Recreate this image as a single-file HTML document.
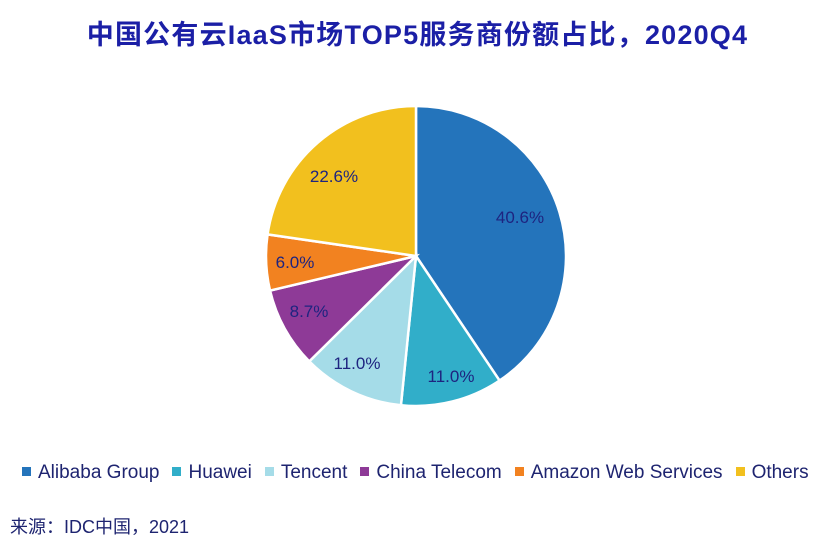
<!DOCTYPE html>
<html><head><meta charset="utf-8"><style>
body{margin:0;width:835px;height:549px;background:#fff;position:relative;overflow:hidden;font-family:"Liberation Sans","Noto Sans CJK SC",sans-serif;}
.t{position:absolute;left:0;width:835px;top:13px;text-align:center;font-size:27px;font-weight:bold;color:#1b1fa6;letter-spacing:1.2px;}
.lab{position:absolute;font-size:17px;color:#1e2480;transform:translate(-50%,-50%);white-space:nowrap;}
.leg{position:absolute;top:462px;left:22px;font-size:19px;color:#1e2470;white-space:nowrap;}
.leg span{margin-right:13px;}
.leg i{display:inline-block;width:9px;height:9px;margin-right:7px;vertical-align:2px;}
.src{position:absolute;left:10px;top:513px;font-size:18px;color:#1e2470;}
</style></head><body>
<div class="t">中国公有云IaaS市场TOP5服务商份额占比，2020Q4</div>
<svg id="p" width="835" height="549" style="position:absolute;left:0;top:0"></svg>
<div class="lab" style="left:520px;top:218px">40.6%</div>
<div class="lab" style="left:451px;top:377px">11.0%</div>
<div class="lab" style="left:357px;top:364px">11.0%</div>
<div class="lab" style="left:309px;top:312px">8.7%</div>
<div class="lab" style="left:295px;top:263px">6.0%</div>
<div class="lab" style="left:334px;top:177px">22.6%</div>
<div class="leg"><span><i style="background:#2474bb"></i>Alibaba Group</span><span><i style="background:#31aec9"></i>Huawei</span><span><i style="background:#a5dce8"></i>Tencent</span><span><i style="background:#8e3a97"></i>China Telecom</span><span><i style="background:#f28220"></i>Amazon Web Services</span><span><i style="background:#f2c01e"></i>Others</span></div>
<div class="src">来源：IDC中国，2021</div>
<script>
var d=[[40.6,"#2474bb"],[11,"#31aec9"],[11,"#a5dce8"],[8.7,"#8e3a97"],[6,"#f28220"],[22.7,"#f2c01e"]];
var cx=416,cy=256,r=150,a=-Math.PI/2,s="";
d.forEach(function(x){var b=a+x[0]/100*2*Math.PI;
var x1=cx+r*Math.cos(a),y1=cy+r*Math.sin(a),x2=cx+r*Math.cos(b),y2=cy+r*Math.sin(b);
s+='<path d="M'+cx+' '+cy+'L'+x1+' '+y1+'A'+r+' '+r+' 0 '+(b-a>Math.PI?1:0)+' 1 '+x2+' '+y2+'Z" fill="'+x[1]+'" stroke="#fff" stroke-width="2.5"/>';a=b;});
document.getElementById("p").innerHTML=s;
</script>
</body></html>
